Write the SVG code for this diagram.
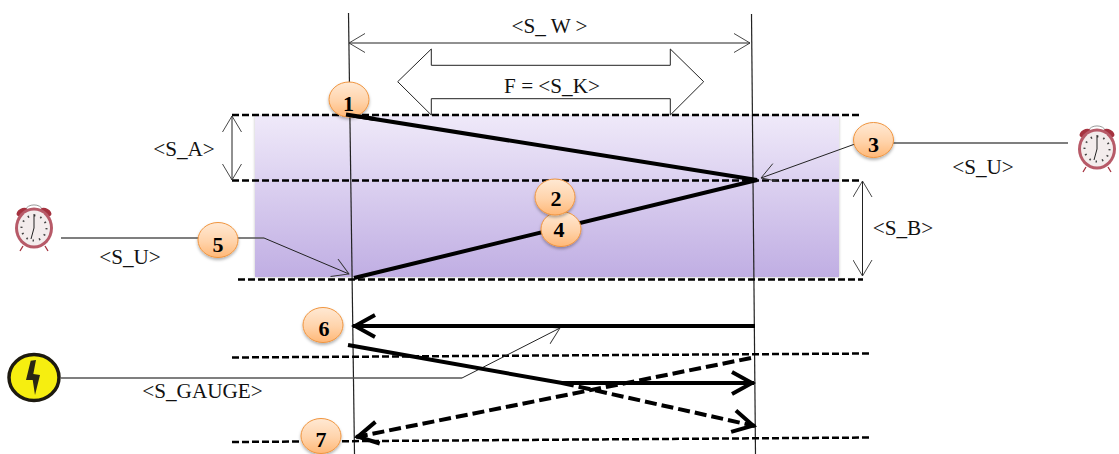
<svg xmlns="http://www.w3.org/2000/svg" width="1119" height="454" viewBox="0 0 1119 454">
<style>
text{font-family:"Liberation Serif","Times New Roman",serif;font-size:21.200px;fill:#111;text-anchor:middle}
text.num{font-weight:bold;font-size:22px;fill:#000}
.badge{fill:url(#bg);stroke:#f0953f;stroke-width:1;filter:url(#sh)}
.dash{fill:none;stroke:#000;stroke-width:2.500;stroke-dasharray:7 3}
.thin{fill:none;stroke:#222;stroke-width:1}
.lead{fill:none;stroke:#555;stroke-width:1.300}
.guide{fill:none;stroke:#222;stroke-width:1.200}
.thick{fill:none;stroke:#000;stroke-width:4}
.thickd{fill:none;stroke:#000;stroke-width:4;stroke-dasharray:12 5}
</style>
<defs>
<linearGradient id="pan" x1="0" y1="0" x2="0" y2="1"><stop offset="0" stop-color="#efe9f9"/><stop offset="1" stop-color="#c0aee3"/></linearGradient>
<linearGradient id="bg" x1="0" y1="0" x2="0" y2="1"><stop offset="0" stop-color="#ffe9d4"/><stop offset=".55" stop-color="#ffd3aa"/><stop offset="1" stop-color="#ffb877"/></linearGradient>
<filter id="sh" x="-30%" y="-30%" width="160%" height="170%"><feDropShadow dx="0" dy="2" stdDeviation="1.500" flood-color="#000" flood-opacity=".3"/></filter>
<filter id="sp" x="-3%" y="-5%" width="106%" height="110%"><feDropShadow dx="0" dy="0" stdDeviation="1.500" flood-color="#000" flood-opacity=".25"/></filter>
<marker id="open" markerUnits="userSpaceOnUse" markerWidth="20" markerHeight="20" refX="17" refY="10" orient="auto-start-reverse" viewBox="0 0 20 20"><path d="M1 .5L17 10L1 19.500" fill="none" stroke="#333" stroke-width=".9"/></marker>
<marker id="big" markerUnits="userSpaceOnUse" markerWidth="30" markerHeight="30" refX="28" refY="15" orient="auto" viewBox="0 0 30 30"><path d="M6 4L26 15L6 26" fill="none" stroke="#000" stroke-width="4"/></marker>
<g id="clock">
<path d="M-9-18A10 9 0 0 1 9-18" fill="none" stroke="#999" stroke-width="1"/>
<ellipse cx="-12" cy="-16" rx="6" ry="3.500" fill="#a5323f" transform="rotate(-30 -12 -16)"/>
<ellipse cx="12" cy="-16" rx="6" ry="3.500" fill="#a5323f" transform="rotate(30 12 -16)"/>
<path d="M-11 18L-14 23M11 18L14 23" stroke="#a5323f" stroke-width="1.300"/>
<ellipse cx="0" cy="0" rx="19" ry="20.500" fill="#b75a68"/>
<ellipse cx="0" cy="0" rx="16" ry="17.500" fill="#f3ecec"/>
<circle cx="0" cy="0" r="12.500" fill="none" stroke="#444" stroke-width="2" stroke-dasharray="1.500 5"/>
<path d="M0-14V0L-3 11" fill="none" stroke="#222" stroke-width="1"/>
</g>
</defs>

<g id="panel"><rect x="255" y="116" width="584" height="161" fill="url(#pan)" filter="url(#sp)"/></g>

<g id="connectors">
<path class="guide" d="M348.500 13L354.500 454"/>
<path class="guide" d="M751.500 14L755.500 454"/>
<path class="dash" d="M232 115H859"/>
<path class="dash" d="M232 180.500H860"/>
<path class="dash" d="M238 279.500H863"/>
<path class="dash" d="M232 357.500L870 353.500"/>
<path class="dash" d="M232 442L870 437.500"/>
<path class="thin" d="M349 43H750" marker-start="url(#open)" marker-end="url(#open)"/>
<path class="thin" d="M232 116V180" marker-start="url(#open)" marker-end="url(#open)"/>
<path class="thin" d="M862.500 181V276" marker-start="url(#open)" marker-end="url(#open)"/>
<path class="thin" d="M397.700 81.700L431.300 49V65.300H670.300V49L703.700 81.700L670.300 115V98.700H431.300V115Z"/>
<path class="lead" d="M61 238H264"/>
<path class="thin" d="M264 238L349 274" marker-end="url(#open)"/>
<path class="lead" d="M893 143H1068"/>
<path class="thin" d="M855 144L761 178" marker-end="url(#open)"/>
<path class="lead" d="M61 378H462"/>
<path class="thin" d="M462 378L560 328" marker-end="url(#open)"/>
<path class="thick" d="M346 114.500L757 180L354 278"/>
<path class="thick" d="M755 326H353" marker-end="url(#big)"/>
<path class="thick" d="M348 345L562 383H754" marker-end="url(#big)"/>
<path class="thickd" d="M562 383L755 426" marker-end="url(#big)"/>
<path class="thickd" d="M751 358L356 437" marker-end="url(#big)"/>
</g>

<g id="label-w"><text x="549.500" y="33">&lt;S_ W &gt;</text></g>
<g id="label-k"><text x="552" y="93">F = &lt;S_K&gt;</text></g>
<g id="label-a"><text x="184" y="156">&lt;S_A&gt;</text></g>
<g id="label-b"><text x="903" y="235">&lt;S_B&gt;</text></g>
<g id="label-u1"><text x="130" y="264">&lt;S_U&gt;</text></g>
<g id="label-u2"><text x="983" y="174">&lt;S_U&gt;</text></g>
<g id="label-gauge"><text x="202.500" y="398">&lt;S_GAUGE&gt;</text></g>

<g id="clock-left"><use href="#clock" x="34" y="228"/></g>
<g id="clock-right"><use href="#clock" x="1097" y="149"/></g>
<g id="hazard">
<ellipse cx="34" cy="377.500" rx="25" ry="23" fill="#f6ee10" stroke="#1d1a10" stroke-width="3.500"/>
<path d="M30.700 360.700L36 360L33.300 374L40 375L35 395L32.700 380L26 380Z" fill="#2a2614"/>
</g>

<g id="node-4"><ellipse class="badge" cx="561" cy="229" rx="20" ry="17.500"/><text class="num" x="559" y="237">4</text></g>
<g id="node-2"><ellipse class="badge" cx="555" cy="197" rx="20" ry="18"/><text class="num" x="556" y="206">2</text></g>
<g id="node-1"><ellipse class="badge" cx="349" cy="99.500" rx="20" ry="17.500"/><text class="num" x="348.500" y="111">1</text></g>
<path class="thick" d="M346 114.500L375 119"/>
<g id="node-3"><ellipse class="badge" cx="873.500" cy="140" rx="20" ry="17.500"/><text class="num" x="873.500" y="152">3</text></g>
<g id="node-5"><ellipse class="badge" cx="218" cy="240" rx="20" ry="17.500"/><text class="num" x="218" y="252">5</text></g>
<g id="node-6"><ellipse class="badge" cx="323" cy="325" rx="20" ry="17.500"/><text class="num" x="324" y="336">6</text></g>
<g id="node-7"><ellipse class="badge" cx="321" cy="436" rx="20" ry="17.500"/><text class="num" x="321" y="447">7</text></g>
</svg>
